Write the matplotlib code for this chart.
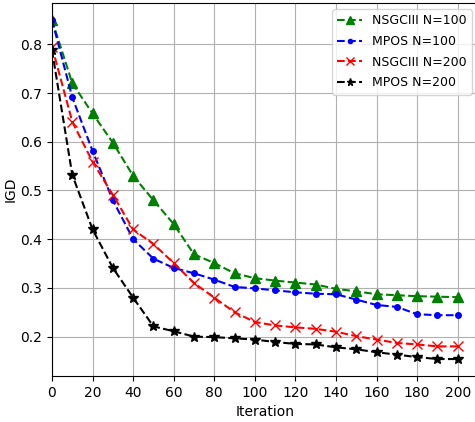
import matplotlib
matplotlib.use("Agg")
import matplotlib.pyplot as plt

iterations = [0, 10, 20, 30, 40, 50, 60, 70, 80, 90, 100, 110, 120, 130, 140, 150, 160, 170, 180, 190, 200]
nsga_100 = [0.85, 0.72, 0.658, 0.598, 0.53, 0.48, 0.431, 0.369, 0.351, 0.33, 0.32, 0.315, 0.311, 0.307, 0.298, 0.293, 0.287, 0.285, 0.283, 0.282, 0.281]
mpos_100 = [0.85, 0.691, 0.581, 0.48, 0.40, 0.36, 0.341, 0.33, 0.317, 0.302, 0.299, 0.295, 0.291, 0.288, 0.287, 0.276, 0.265, 0.261, 0.246, 0.244, 0.244]
nsga_200 = [0.795, 0.641, 0.559, 0.491, 0.42, 0.39, 0.351, 0.31, 0.28, 0.25, 0.23, 0.223, 0.219, 0.216, 0.21, 0.201, 0.194, 0.187, 0.184, 0.18, 0.18]
mpos_200 = [0.788, 0.532, 0.42, 0.341, 0.28, 0.221, 0.211, 0.20, 0.199, 0.1965, 0.194, 0.189, 0.185, 0.184, 0.178, 0.174, 0.168, 0.163, 0.158, 0.154, 0.154]

fig = plt.figure(figsize=(4.75, 4.22), dpi=100)
ax = fig.add_axes([52/475, 46/422, (478-52)/475, (376-3)/422])

ax.plot(iterations, nsga_100, 'g--', marker='^', markersize=7, label='NSGCIII N=100')
ax.plot(iterations, mpos_100, 'b--', marker='o', markersize=4, label='MPOS N=100')
ax.plot(iterations, nsga_200, 'r--', marker='x', markersize=7, label='NSGCIII N=200')
ax.plot(iterations, mpos_200, 'k--', marker='*', markersize=7, label='MPOS N=200')

ax.set_xlim(0, 210)
ax.set_xticks(range(0, 201, 20))
ax.set_xlabel('Iteration')
ax.set_ylabel('IGD', labelpad=2)
ax.grid(True)
ax.legend(loc='upper right', fontsize=9, labelspacing=0.62, markerscale=0.75)

fig.savefig('out.png', dpi=100)
